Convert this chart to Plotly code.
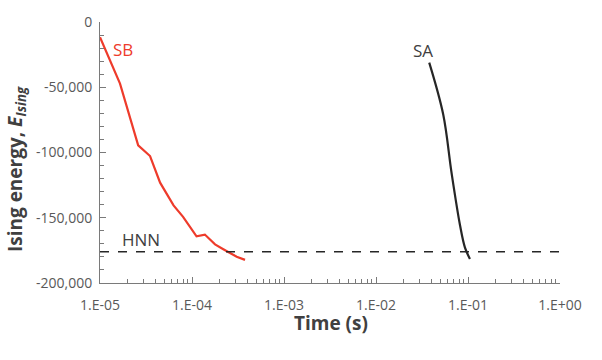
import plotly.graph_objects as go

# Data
sb_time = [1.0e-5, 1.65e-5, 2.6e-5, 3.5e-5, 4.5e-5, 6.3e-5, 8.0e-5, 1.12e-4, 1.38e-4, 1.78e-4, 2.19e-4, 3.06e-4, 3.77e-4]
sb_energy = [-11700, -47200, -94500, -102700, -123100, -140500, -149300, -164200, -162900, -170400, -174100, -179900, -182300]

sa_time = [0.0379, 0.0538, 0.0663, 0.0818, 0.0927, 0.105]
sa_energy = [-31100, -70900, -115700, -155500, -172900, -181600]

hnn_energy = -176000
hnn_time = [1e-5, 1.0]

x_tickvals = [1e-5, 1e-4, 1e-3, 1e-2, 1e-1, 1e0]
x_ticktext = ["1.E-05", "1.E-04", "1.E-03", "1.E-02", "1.E-01", "1.E+00"]
y_tickvals = [0, -50000, -100000, -150000, -200000]
y_ticktext = ["0", "-50,000", "-100,000", "-150,000", "-200,000"]

FONT = "Open Sans"
GRAY = "#595959"
AXIS = "#7a7a7a"

L, R, T, B = 100, 42, 15, 77
W, H = 602, 360
pw, ph = W - L - R, H - T - B

fig = go.Figure()
# HNN line drawn on the overlay axes (same ranges) so they are rendered with their ticks
fig.add_trace(go.Scatter(x=hnn_time, y=[hnn_energy, hnn_energy], mode="lines", xaxis="x2", yaxis="y2",
                         line=dict(color="#262626", width=1.5, dash="dash"), showlegend=False))
fig.add_trace(go.Scatter(x=sb_time, y=sb_energy, mode="lines",
                         line=dict(color="#EE3B2B", width=2.2), showlegend=False))
fig.add_trace(go.Scatter(x=sa_time, y=sa_energy, mode="lines", line_shape="spline",
                         line=dict(color="#262626", width=2.2), showlegend=False))

annotations = [
    dict(x=123, y=43, text="SB", font=dict(color="#EE3B2B", size=17)),
    dict(x=423, y=44, text="SA", font=dict(color="#404040", size=17)),
    dict(x=141, y=238, text="HNN", font=dict(color="#404040", size=17)),
    dict(x=16, y=166, text="<b>Ising energy, <i>E</i><sub><i>Ising</i></sub></b>",
         textangle=-90, font=dict(color="#404040", size=19)),
    dict(x=331, y=324, text="<b>Time (s)</b>", font=dict(color="#404040", size=19)),
]
for a in annotations:
    fig.add_annotation(x=(a["x"] - L) / pw, y=1 - (a["y"] - T) / ph,
                       xref="paper", yref="paper",
                       xanchor="center", yanchor="middle", showarrow=False,
                       text=a["text"], font=dict(family=FONT, **a["font"]),
                       textangle=a.get("textangle", 0))

x_minor = [m * 10 ** e for e in range(-5, 0) for m in range(2, 10)]
y_minor = [-v for v in range(10000, 200000, 10000) if v % 50000]

fig.update_layout(
    width=W, height=H,
    margin=dict(l=L, r=R, t=T, b=B),
    paper_bgcolor="white", plot_bgcolor="white",
    font=dict(family=FONT, color=GRAY, size=14),
    xaxis=dict(
        type="log", range=[-5, 0], tickmode="array", tickvals=x_tickvals, ticktext=x_ticktext,
        showgrid=False, zeroline=False, showline=True, linecolor=AXIS, linewidth=1,
        ticks="outside", ticklen=9, tickcolor="rgba(0,0,0,0)",
        tickfont=dict(size=14, color=GRAY),
    ),
    yaxis=dict(
        range=[-200000, 0], tickmode="array", tickvals=y_tickvals, ticktext=y_ticktext,
        showgrid=False, zeroline=False, showline=True, linecolor=AXIS, linewidth=1,
        ticks="outside", ticklen=4, tickcolor="rgba(0,0,0,0)",
        tickfont=dict(size=14, color=GRAY),
    ),
    xaxis2=dict(
        type="log", range=[-5, 0], overlaying="x", anchor="y2", side="bottom",
        tickmode="array", tickvals=x_tickvals, showticklabels=False,
        showgrid=False, zeroline=False, showline=False,
        ticks="inside", ticklen=6, tickwidth=1, tickcolor=AXIS,
        minor=dict(ticks="inside", ticklen=4, tickwidth=1, tickcolor=AXIS,
                   tickmode="array", tickvals=x_minor, showgrid=False),
    ),
    yaxis2=dict(
        range=[-200000, 0], overlaying="y", anchor="x2", side="left",
        tickmode="array", tickvals=y_tickvals, showticklabels=False,
        showgrid=False, zeroline=False, showline=False,
        ticks="inside", ticklen=6, tickwidth=1, tickcolor=AXIS,
        minor=dict(ticks="inside", ticklen=4, tickwidth=1, tickcolor=AXIS,
                   tickmode="array", tickvals=y_minor, showgrid=False),
    ),
)

fig.write_html("out.html")
